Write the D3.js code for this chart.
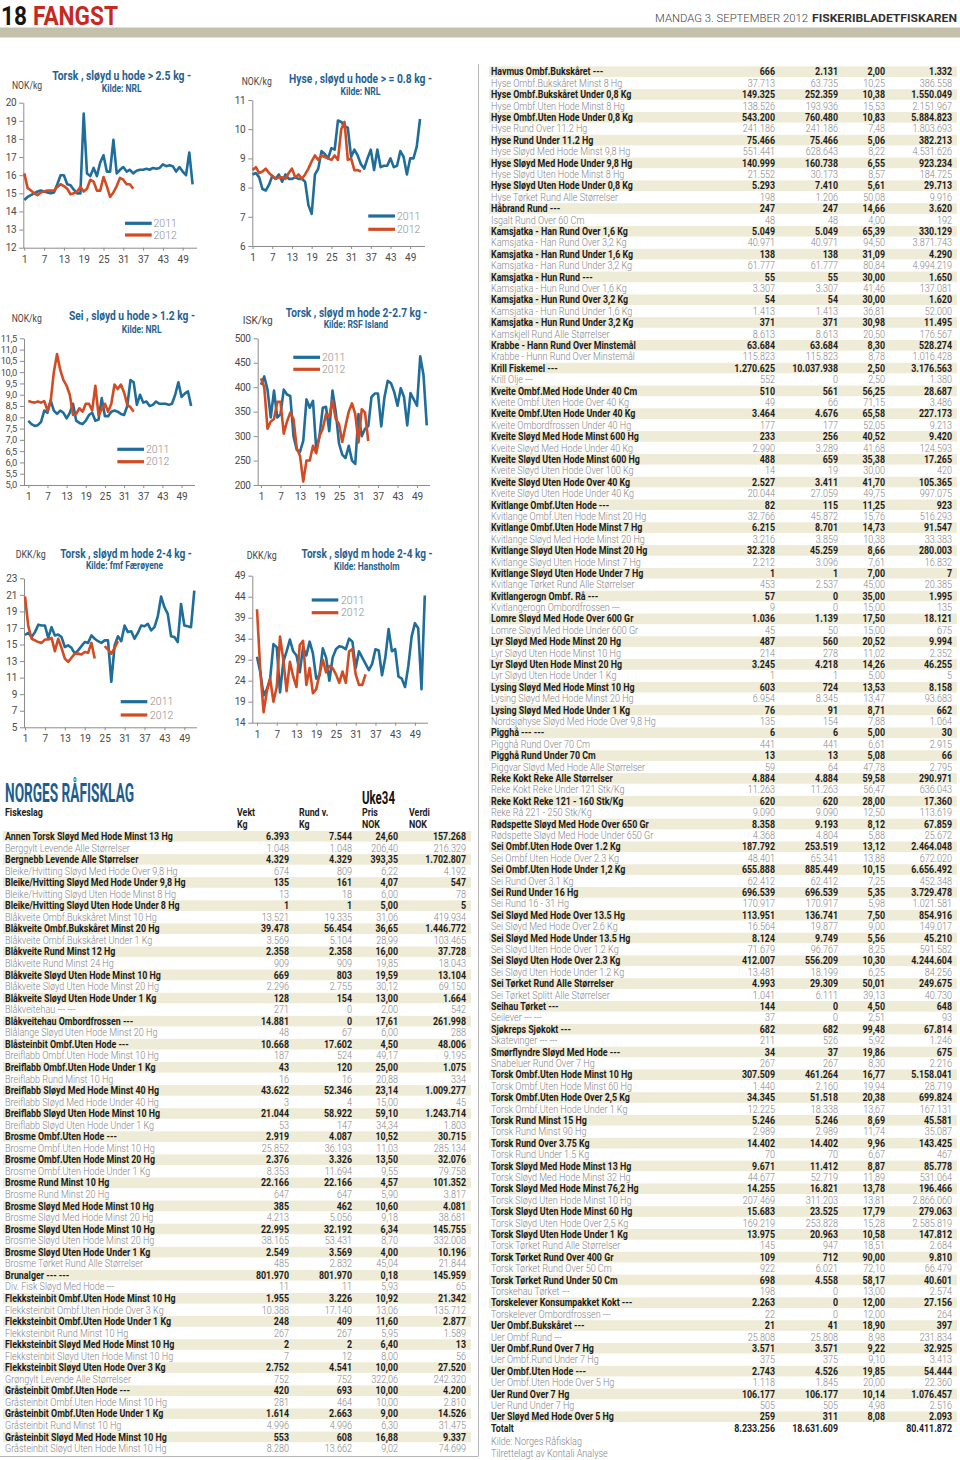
<!DOCTYPE html>
<html><head><meta charset="utf-8">
<script src="https://cdn.jsdelivr.net/npm/d3@7"></script>
<style>html,body{margin:0;padding:0;background:#fff}svg{display:block}</style>
</head><body>
<svg id="c" width="960" height="1460"></svg>
<script>
// ---------------- DATA ----------------
const weekTicks = [1,7,13,19,25,31,37,43,49];
const chartTitles = ["Torsk , sløyd u hode > 2.5 kg -","Hyse , sløyd u hode > = 0.8 kg -","Sei , sløyd u hode >  1.2 kg -","Torsk , sløyd m hode  2-2.7 kg -","Torsk , sløyd m hode 2-4 kg -","Torsk , sløyd m hode 2-4 kg -"];
const chartSources = ["Kilde: NRL","Kilde: NRL","Kilde: NRL","Kilde: RSF Island","Kilde: fmf Færøyene","Kilde: Hanstholm"];
const chartUnits = ["NOK/kg","NOK/kg","NOK/kg","ISK/kg","DKK/kg","DKK/kg"];
const seriesNames = ["2011","2012"];

const torskNrlTicks = [12,13,14,15,16,17,18,19,20];
const torskNrl2011 = [14.63,14.8,14.9,15.0,15.1,15.15,15.1,15.05,15.0,15.05,15.5,16.0,16.0,15.5,15.45,15.2,15.0,15.0,19.4,16.1,15.95,16.4,15.95,16.7,17.1,16.2,16.2,17.95,16.1,16.3,16.45,16.2,16.3,16.1,16.25,16.3,16.3,16.35,16.3,16.4,16.35,16.4,16.6,16.5,16.55,16.5,16.2,16.45,16.2,16.0,17.25,15.5];
const torskNrl2012 = [16.1,15.3,15.15,15.0,14.9,15.05,15.1,15.15,15.15,15.15,15.35,15.5,15.4,15.25,14.95,15.0,15.1,15.35,15.1,15.25,15.75,15.65,15.15,15.15,15.9,15.4,14.8,15.05,15.4,15.85,15.75,15.5,15.5,15.25];

const hyseTicks = [6,7,8,9,10,11];
const hyse2011 = [8.45,8.5,8.35,7.95,7.9,8.1,8.4,8.3,8.45,8.2,8.45,8.3,8.3,8.35,8.3,8.3,8.2,7.4,7.1,8.45,8.65,9.25,9.15,9.0,9.35,9.3,10.3,10.25,10.1,10.05,9.05,9.3,9.1,8.8,8.65,9.0,9.3,8.6,9.3,8.7,8.75,8.75,9.0,8.7,8.75,9.25,9.05,8.45,9.0,9.0,9.4,10.35];
const hyse2012 = [8.6,8.7,8.5,8.55,8.65,8.5,8.4,8.3,8.35,8.35,8.3,8.5,8.65,8.35,8.45,8.3,8.45,8.65,8.9,9.1,8.95,9.1,9.05,9.0,8.95,9.1,8.95,10.0,10.25,8.95,9.0,8.6,8.6,8.55];

const seiTicks = [5,5.5,6,6.5,7,7.5,8,8.5,9,9.5,10,10.5,11,11.5];
const sei2011 = [7.84,7.7,7.62,7.65,7.8,8.3,8.2,8.75,8.3,8.15,8.3,8.2,7.95,8.2,8.6,7.85,7.75,7.7,7.85,8.1,8.2,7.85,7.9,8.85,8.05,8.05,8.25,8.3,8.25,8.15,8.1,8.5,9.65,9.55,8.55,9.0,8.65,8.7,8.5,8.55,8.7,8.6,8.6,8.6,8.55,8.6,9.0,9.55,8.9,9.05,9.15,8.5];
const sei2012 = [8.72,8.68,8.65,8.7,8.65,8.72,8.3,8.7,10.0,10.8,10.1,9.65,9.4,9.0,8.1,8.15,8.4,8.25,8.6,8.6,8.3,9.4,8.1,8.35,8.6,8.25,8.6,9.45,9.25,9.45,9.1,8.55,8.45,8.25];

const islandTicks = [200,250,300,350,400,450,500];
const island2011 = [405,422,395,338,393,338,345,395,385,382,300,272,268,290,375,358,372,272,300,358,360,310,393,350,285,262,255,280,250,243,345,300,315,320,380,387,387,320,380,413,408,390,362,398,380,322,388,375,362,463,425,322];
const island2012 = [418,400,315,330,335,370,370,305,330,348,335,275,260,207,250,250,280,265,300,315,345,340,373,335,325,288,320,350,367,345,287,355,348,290];

const faroeTicks = [5,7,9,11,13,15,17,19,21,23];
const faroe2011 = [16.15,16.4,15.9,16.5,17.4,17.3,17.3,15.8,17.1,16.1,16.2,15.9,14.7,14.9,14.6,13.9,14.3,14.8,15.3,15.2,16.1,15.7,15.4,15.2,15.5,15.5,10.5,14.9,16.0,15.4,17.3,16.5,16.6,15.7,16.4,17.3,17.2,17.5,16.7,17.1,18.4,20.8,19.5,18.7,16.0,15.9,15.3,19.9,17.3,17.2,17.1,21.5];
const faroe2012 = [20.8,17.2,15.7,15.5,15.3,15.2,15.6,15.6,15.8,14.2,15.7,14.6,13.3,12.9,13.4,13.9,13.9,13.8,14.1,14.0,15.2,13.3,null,null,14.8,14.4,13.9,14.6,15.4];

const hanstTicks = [14,19,24,29,34,39,44,49];
const hanst2011 = [29.7,26,20.5,22.0,24.5,32.7,32.0,21.2,28.5,31.0,33.8,31.0,30.0,26.0,32.0,30.0,33.3,30.5,24.5,25.3,31.7,29.5,24.0,29.5,31.5,32.2,32.0,31.5,34.0,33.3,27.0,31.0,29.5,28.0,26.5,28.0,31.5,31.2,25.3,29.5,36.3,31.0,31.5,25.0,24.5,22.5,27.5,34.5,37.7,36.5,22.0,44.3];
const hanst2012 = [41.0,26.5,16.5,21.5,24.5,19.0,22.5,34.5,29.0,21.5,28.5,25.0,22.5,32.5,33.5,23.0,27.0,21.0,22.0,25.5,29.0,26.0,27.5,27.0,25.5,23.5,26.2,23.5,31.0,31.5,25.5,23.0,23.0,25.5];

// Norges Råfisklag table
const tableHead = ["Fiskeslag","Vekt","Kg","Rund v.","Kg","Pris","NOK","Verdi","NOK"];
const leftNames = ["Annen Torsk Sløyd Med Hode Minst 13 Hg","Berggylt Levende Alle Størrelser","Bergnebb Levende Alle Størrelser","Bleike/Hvitting Sløyd Med Hode Over 9,8 Hg","Bleike/Hvitting Sløyd Med Hode Under 9,8 Hg","Bleike/Hvitting Sløyd Uten Hode Minst 8 Hg","Bleike/Hvitting Sløyd Uten Hode Under 8 Hg","Blåkveite Ombf.Bukskåret Minst 10 Hg","Blåkveite Ombf.Bukskåret Minst 20 Hg","Blåkveite Ombf.Bukskåret Under 1 Kg","Blåkveite Rund Minst 12 Hg","Blåkveite Rund Minst 24 Hg","Blåkveite Sløyd Uten Hode Minst 10 Hg","Blåkveite Sløyd Uten Hode Minst 20 Hg","Blåkveite Sløyd Uten Hode Under 1 Kg","Blåkveitehau --- ---","Blåkveitehau Ombordfrossen ---","Blålange Sløyd Uten Hode Minst 20 Hg","Blåsteinbit Ombf.Uten Hode ---","Breiflabb Ombf.Uten Hode Minst 10 Hg","Breiflabb Ombf.Uten Hode Under 1 Kg","Breiflabb Rund Minst 10 Hg","Breiflabb Sløyd Med Hode Minst 40 Hg","Breiflabb Sløyd Med Hode Under 40 Hg","Breiflabb Sløyd Uten Hode Minst 10 Hg","Breiflabb Sløyd Uten Hode Under 1 Kg","Brosme Ombf.Uten Hode ---","Brosme Ombf.Uten Hode Minst 10 Hg","Brosme Ombf.Uten Hode Minst 20 Hg","Brosme Ombf.Uten Hode Under 1 Kg","Brosme Rund Minst 10 Hg","Brosme Rund Minst 20 Hg","Brosme Sløyd Med Hode Minst 10 Hg","Brosme Sløyd Med Hode Minst 20 Hg","Brosme Sløyd Uten Hode Minst 10 Hg","Brosme Sløyd Uten Hode Minst 20 Hg","Brosme Sløyd Uten Hode Under 1 Kg","Brosme Tørket Rund Alle Størrelser","Brunalger --- ---","Div. Fisk Sløyd Med Hode ---","Flekksteinbit Ombf.Uten Hode Minst 10 Hg","Flekksteinbit Ombf.Uten Hode Over 3 Kg","Flekksteinbit Ombf.Uten Hode Under 1 Kg","Flekksteinbit Rund Minst 10 Hg","Flekksteinbit Sløyd Med Hode Minst 10 Hg","Flekksteinbit Sløyd Uten Hode Minst 10 Hg","Flekksteinbit Sløyd Uten Hode Over 3 Kg","Grøngylt Levende Alle Størrelser","Gråsteinbit Ombf.Uten Hode ---","Gråsteinbit Ombf.Uten Hode Minst 10 Hg","Gråsteinbit Ombf.Uten Hode Under 1 Kg","Gråsteinbit Rund Minst 10 Hg","Gråsteinbit Sløyd Med Hode Minst 10 Hg","Gråsteinbit Sløyd Uten Hode Minst 10 Hg"];
const leftVekt = ["6.393","1.048","4.329","674","135","13","1","13.521","39.478","3.569","2.358","909","669","2.296","128","271","14.881","48","10.668","187","43","16","43.622","3","21.044","53","2.919","25.852","2.376","8.353","22.166","647","385","4.213","22.995","38.165","2.549","485","801.970","11","1.955","10.388","248","267","2","7","2.752","752","420","281","1.614","4.996","553","8.280"];
const leftRund = ["7.544","1.048","4.329","809","161","18","1","19.335","56.454","5.104","2.358","909","803","2.755","154","0","0","67","17.602","524","120","16","52.346","4","58.922","147","4.087","36.193","3.326","11.694","22.166","647","462","5.056","32.192","53.431","3.569","2.832","801.970","11","3.226","17.140","409","267","2","12","4.541","752","693","464","2.663","4.996","608","13.662"];
const leftPris = ["24,60","206,40","393,35","6,22","4,07","6,00","5,00","31,06","36,65","28,99","16,00","19,85","19,59","30,12","13,00","2,00","17,61","6,00","4,50","49,17","25,00","20,88","23,14","15,00","59,10","34,34","10,52","11,03","13,50","9,55","4,57","5,90","10,60","9,18","6,34","8,70","4,00","45,04","0,18","5,93","10,92","13,06","11,60","5,95","6,40","8,00","10,00","322,06","10,00","10,00","9,00","6,30","16,88","9,02"];
const leftVerdi = ["157.268","216.329","1.702.807","4.192","547","78","5","419.934","1.446.772","103.465","37.728","18.043","13.104","69.150","1.664","542","261.998","288","48.006","9.195","1.075","334","1.009.277","45","1.243.714","1.803","30.715","285.134","32.076","79.758","101.352","3.817","4.081","38.681","145.755","332.008","10.196","21.844","145.959","65","21.342","135.712","2.877","1.589","13","56","27.520","242.320","4.200","2.810","14.526","31.475","9.337","74.699"];

const rightNames = ["Havmus Ombf.Bukskåret ---","Hyse Ombf.Bukskåret Minst 8 Hg","Hyse Ombf.Bukskåret Under 0,8 Kg","Hyse Ombf.Uten Hode Minst 8 Hg","Hyse Ombf.Uten Hode Under 0,8 Kg","Hyse Rund Over 11.2 Hg","Hyse Rund Under 11.2 Hg","Hyse Sløyd Med Hode Minst 9,8 Hg","Hyse Sløyd Med Hode Under 9,8 Hg","Hyse Sløyd Uten Hode Minst 8 Hg","Hyse Sløyd Uten Hode Under 0,8 Kg","Hyse Tørket Rund Alle Størrelser","Håbrand Rund ---","Isgalt Rund Over 60 Cm","Kamsjatka - Han Rund Over 1,6 Kg","Kamsjatka - Han Rund Over 3,2 Kg","Kamsjatka - Han Rund Under 1,6 Kg","Kamsjatka - Han Rund Under 3,2 Kg","Kamsjatka - Hun Rund ---","Kamsjatka - Hun Rund Over 1,6 Kg","Kamsjatka - Hun Rund Over 3,2 Kg","Kamsjatka - Hun Rund Under 1,6 Kg","Kamsjatka - Hun Rund Under 3,2 Kg","Kamskjell Rund Alle Størrelser","Krabbe - Hann Rund Over Minstemål","Krabbe - Hunn Rund Over Minstemål","Krill Fiskemel ---","Krill Olje ---","Kveite Ombf.Med Hode Under 40 Cm","Kveite Ombf.Uten Hode Over 40 Kg","Kveite Ombf.Uten Hode Under 40 Kg","Kveite Ombordfrossen Under 40 Hg","Kveite Sløyd Med Hode Minst 600 Hg","Kveite Sløyd Med Hode Under 40 Kg","Kveite Sløyd Uten Hode Minst 600 Hg","Kveite Sløyd Uten Hode Over 100 Kg","Kveite Sløyd Uten Hode Over 40 Kg","Kveite Sløyd Uten Hode Under 40 Kg","Kvitlange Ombf.Uten Hode ---","Kvitlange Ombf.Uten Hode Minst 20 Hg","Kvitlange Ombf.Uten Hode Minst 7 Hg","Kvitlange Sløyd Med Hode Minst 20 Hg","Kvitlange Sløyd Uten Hode Minst 20 Hg","Kvitlange Sløyd Uten Hode Minst 7 Hg","Kvitlange Sløyd Uten Hode Under 7 Hg","Kvitlange Tørket Rund Alle Størrelser","Kvitlangerogn Ombf. Rå ---","Kvitlangerogn Ombordfrossen ---","Lomre Sløyd Med Hode Over 600 Gr","Lomre Sløyd Med Hode Under 600 Gr","Lyr Sløyd Med Hode Minst 20 Hg","Lyr Sløyd Uten Hode Minst 10 Hg","Lyr Sløyd Uten Hode Minst 20 Hg","Lyr Sløyd Uten Hode Under 1 Kg","Lysing Sløyd Med Hode Minst 10 Hg","Lysing Sløyd Med Hode Minst 20 Hg","Lysing Sløyd Med Hode Under 1 Kg","Nordsjøhyse Sløyd Med Hode Over 9,8 Hg","Pigghå --- ---","Pigghå Rund Over 70 Cm","Pigghå Rund Under 70 Cm","Piggvar Sløyd Med Hode Alle Størrelser","Reke Kokt Reke Alle Størrelser","Reke Kokt Reke Under 121 Stk/Kg","Reke Kokt Reke 121 - 160 Stk/Kg","Reke Rå 221 - 250 Stk/Kg","Rødspette Sløyd Med Hode Over 650 Gr","Rødspette Sløyd Med Hode Under 650 Gr","Sei Ombf.Uten Hode Over 1.2 Kg","Sei Ombf.Uten Hode Over 2.3 Kg","Sei Ombf.Uten Hode Under 1,2 Kg","Sei Rund Over 3.1 Kg","Sei Rund Under 16 Hg","Sei Rund 16 - 31 Hg","Sei Sløyd Med Hode Over 13.5 Hg","Sei Sløyd Med Hode Over 2.6 Kg","Sei Sløyd Med Hode Under 13.5 Hg","Sei Sløyd Uten Hode Over 1.2 Kg","Sei Sløyd Uten Hode Over 2.3 Kg","Sei Sløyd Uten Hode Under 1.2 Kg","Sei Tørket Rund Alle Størrelser","Sei Tørket Splitt Alle Størrelser","Seihau Tørket ---","Seilever --- ---","Sjøkreps Sjøkokt ---","Skatevinger --- ---","Smørflyndre Sløyd Med Hode ---","Snabeluer Rund Over 7 Hg","Torsk Ombf.Uten Hode Minst 10 Hg","Torsk Ombf.Uten Hode Minst 60 Hg","Torsk Ombf.Uten Hode Over 2,5 Kg","Torsk Ombf.Uten Hode Under 1 Kg","Torsk Rund Minst 15 Hg","Torsk Rund Minst 90 Hg","Torsk Rund Over 3.75 Kg","Torsk Rund Under 1.5 Kg","Torsk Sløyd Med Hode Minst 13 Hg","Torsk Sløyd Med Hode Minst 32 Hg","Torsk Sløyd Med Hode Minst 76,2 Hg","Torsk Sløyd Uten Hode Minst 10 Hg","Torsk Sløyd Uten Hode Minst 60 Hg","Torsk Sløyd Uten Hode Over 2,5 Kg","Torsk Sløyd Uten Hode Under 1 Kg","Torsk Tørket Rund Alle Størrelser","Torsk Tørket Rund Over 400 Gr","Torsk Tørket Rund Over 50 Cm","Torsk Tørket Rund Under 50 Cm","Torskehau Tørket ---","Torskelever Konsumpakket Kokt ---","Torskelever Ombordfrossen ---","Uer Ombf.Bukskåret ---","Uer Ombf.Rund ---","Uer Ombf.Rund Over 7 Hg","Uer Ombf.Rund Under 7 Hg","Uer Ombf.Uten Hode ---","Uer Ombf.Uten Hode Over 5 Hg","Uer Rund Over 7 Hg","Uer Rund Under 7 Hg","Uer Sløyd Med Hode Over 5 Hg"];
const rightVekt = ["666","37.713","149.325","138.526","543.200","241.186","75.466","551.441","140.999","21.552","5.293","198","247","48","5.049","40.971","138","61.777","55","3.307","54","1.413","371","8.613","63.684","115.823","1.270.625","552","510","49","3.464","177","233","2.990","488","14","2.527","20.044","82","32.766","6.215","3.216","32.328","2.212","1","453","57","9","1.036","45","487","214","3.245","1","603","6.954","76","135","6","441","13","59","4.884","11.263","620","9.090","8.358","4.368","187.792","48.401","655.888","62.412","696.539","170.917","113.951","16.564","8.124","71.679","412.007","13.481","4.993","1.041","144","37","682","211","34","267","307.509","1.440","34.345","12.225","5.246","2.989","14.402","70","9.671","44.677","14.255","207.469","15.683","169.219","13.975","145","109","922","698","198","2.263","22","21","25.808","3.571","375","2.743","1.118","106.177","505","259"];
const rightRund = ["2.131","63.735","252.359","193.936","760.480","241.186","75.466","628.643","160.738","30.173","7.410","1.206","247","48","5.049","40.971","138","61.777","55","3.307","54","1.413","371","8.613","63.684","115.823","10.037.938","0","561","66","4.676","177","256","3.289","659","19","3.411","27.059","115","45.872","8.701","3.859","45.259","3.096","1","2.537","0","0","1.139","50","560","278","4.218","1","724","8.345","91","154","6","441","13","64","4.884","11.263","620","9.090","9.193","4.804","253.519","65.341","885.449","62.412","696.539","170.917","136.741","19.877","9.749","96.767","556.209","18.199","29.309","6.111","0","0","682","526","37","267","461.264","2.160","51.518","18.338","5.246","2.989","14.402","70","11.412","52.719","16.821","311.203","23.525","253.828","20.963","947","712","6.021","4.558","0","0","0","41","25.808","3.571","375","4.526","1.845","106.177","505","311"];
const rightPris = ["2,00","10,25","10,38","15,53","10,83","7,48","5,06","8,22","6,55","8,57","5,61","50,08","14,66","4,00","65,39","94,50","31,09","80,84","30,00","41,46","30,00","36,81","30,98","20,50","8,30","8,78","2,50","2,50","56,25","71,15","65,58","52,05","40,52","41,68","35,38","30,00","41,70","49,75","11,25","15,76","14,73","10,38","8,66","7,61","7,00","45,00","35,00","15,00","17,50","15,00","20,52","11,02","14,26","5,00","13,53","13,47","8,71","7,88","5,00","6,61","5,08","47,78","59,58","56,47","28,00","12,50","8,12","5,88","13,12","13,88","10,15","7,25","5,35","5,98","7,50","9,00","5,56","8,25","10,30","6,25","50,01","39,13","4,50","2,51","99,48","5,92","19,86","8,30","16,77","19,94","20,38","13,67","8,69","11,74","9,96","6,67","8,87","11,89","13,78","13,81","17,79","15,28","10,58","18,51","90,00","72,10","58,17","13,00","12,00","12,00","18,90","8,98","9,22","9,10","19,85","20,00","10,14","4,98","8,08"];
const rightVerdi = ["1.332","386.558","1.550.049","2.151.967","5.884.823","1.803.693","382.213","4.531.626","923.234","184.725","29.713","9.916","3.620","192","330.129","3.871.743","4.290","4.994.219","1.650","137.081","1.620","52.000","11.495","176.567","528.274","1.016.428","3.176.563","1.380","28.687","3.486","227.173","9.213","9.420","124.593","17.265","420","105.365","997.075","923","516.293","91.547","33.383","280.003","16.832","7","20.385","1.995","135","18.121","675","9.994","2.352","46.255","5","8.158","93.683","662","1.064","30","2.915","66","2.795","290.971","636.043","17.360","113.619","67.859","25.672","2.464.048","672.020","6.656.492","452.348","3.729.478","1.021.581","854.916","149.017","45.210","591.582","4.244.604","84.256","249.675","40.730","648","93","67.814","1.246","675","2.216","5.158.041","28.719","699.824","167.131","45.581","35.087","143.425","467","85.778","531.064","196.466","2.866.060","279.063","2.585.819","147.812","2.684","9.810","66.479","40.601","2.574","27.156","264","397","231.834","32.925","3.413","54.444","22.360","1.076.457","2.516","2.093"];
const totalRow = ["Totalt","8.233.256","18.631.609","","80.411.872"];
const footNotes = ["Kilde: Norges Råfisklag","Tilrettelagt av Kontali Analyse"];

// ---------------- DRAW ----------------
function draw(){
const svg = d3.select("#c");
const F = "Roboto, 'Noto Sans', sans-serif";
const BLUE = "#1f6d9a", RED = "#d24b23", TITLEC = "#1f6291";

function measure(str, weight, size){
  const t = svg.append("text").attr("font-family",F).attr("font-weight",weight).attr("font-size",size).text(str);
  const w = t.node().getComputedTextLength(); t.remove(); return w;
}
const FS = 10.5;
const kB = 168 / measure("Annen Torsk Sløyd Med Hode Minst 13 Hg", 700, FS);
const kL = 125 / measure("Berggylt Levende Alle Størrelser", 300, FS);

// page header
svg.append("text").attr("x",1).attr("y",24.5).attr("font-family",F).attr("font-weight",700)
  .attr("font-size",26).attr("fill","#151515").attr("textLength",26).attr("lengthAdjust","spacingAndGlyphs").text("18");
svg.append("text").attr("x",33).attr("y",24.5).attr("font-family",F).attr("font-weight",700)
  .attr("font-size",26).attr("fill","#c8281f").attr("textLength",85).attr("lengthAdjust","spacingAndGlyphs").text("FANGST");
svg.append("text").attr("x",655).attr("y",22).attr("font-family",F).attr("font-weight",300).attr("font-size",11.5)
  .attr("fill","#444").attr("textLength",153).attr("lengthAdjust","spacingAndGlyphs").text("MANDAG 3. SEPTEMBER 2012");
svg.append("text").attr("x",812).attr("y",22).attr("font-family",F).attr("font-weight",700).attr("font-size",11.5)
  .attr("fill","#333").attr("textLength",145).attr("lengthAdjust","spacingAndGlyphs").text("FISKERIBLADETFISKAREN");
svg.append("rect").attr("x",0).attr("y",27.5).attr("width",960).attr("height",10).attr("fill","#c3c1ab");

// panel frame
svg.append("line").attr("x1",478.5).attr("x2",478.5).attr("y1",64).attr("y2",1456).attr("stroke","#b5b5b5").attr("stroke-width",1);
svg.append("line").attr("x1",0).attr("x2",478.5).attr("y1",1456.5).attr("y2",1456.5).attr("stroke","#b5b5b5").attr("stroke-width",1);

// ------------- charts -------------
const layouts = [
 {ax:23.3, x1:24.3, dx:3.30, yTop:102.7, yBot:247.7, xEnd:197, title:[121.7,76,139], kilde:[121.7,88.5], unit:[12,85], leg:[125,151.7,223.3,235,153.5], fs:10},
 {ax:252.3, x1:252.6, dx:3.283, yTop:100, yBot:246, xEnd:425, title:[360.5,79,143], kilde:[360.5,91.7], unit:[241.7,81.7], leg:[368.3,395,216,229.3,397], fs:10},
 {ax:24, x1:28.3, dx:3.193, yTop:338.3, yBot:485, xEnd:195, title:[132,315.7,126], kilde:[141.7,329], unit:[11.7,318.3], leg:[117.3,144,449.3,461.7,146], fs:9.3},
 {ax:257.7, x1:261, dx:3.25, yTop:338.3, yBot:485, xEnd:430, title:[356.5,312.3,141.6], kilde:[355.8,324.3], unit:[242.7,320], leg:[293.3,320,357.3,369.3,322], fs:10},
 {ax:24, x1:25, dx:3.32, yTop:578.3, yBot:727.3, xEnd:197, title:[126,553.3,131.7], kilde:[124.5,565], unit:[15.7,554.3], leg:[120.7,147.3,701.7,715,150], fs:10},
 {ax:252.3, x1:257, dx:3.29, yTop:575.7, yBot:722.7, xEnd:428, title:[367,553.3,131], kilde:[366.8,566], unit:[246.7,555], leg:[311.7,338.3,600,612.7,341], fs:10}
];
const chartData = [
 [torskNrl2011, torskNrl2012, torskNrlTicks, d=>d],
 [hyse2011, hyse2012, hyseTicks, d=>d],
 [sei2011, sei2012, seiTicks, d=>d.toFixed(1).replace(".",",")],
 [island2011, island2012, islandTicks, d=>d],
 [faroe2011, faroe2012, faroeTicks, d=>d],
 [hanst2011, hanst2012, hanstTicks, d=>d]
];

chartData.forEach(([s1,s2,ticks,fmt],ci)=>{
  const L = layouts[ci];
  const g = svg.append("g");
  const x = d3.scaleLinear().domain([1,52]).range([L.x1, L.x1 + 51*L.dx]);
  const y = d3.scaleLinear().domain([ticks[0], ticks[ticks.length-1]]).range([L.yBot, L.yTop]);

  const ya = g.append("g").attr("transform",`translate(${L.ax},0)`)
    .call(d3.axisLeft(y).tickValues(ticks).tickFormat(fmt).tickSize(4).tickSizeOuter(0).tickPadding(3));
  const xa = g.append("g").attr("transform",`translate(0,${L.yBot})`)
    .call(d3.axisBottom(x).tickValues(weekTicks).tickSize(3).tickSizeOuter(0).tickPadding(5));
  xa.select(".domain").remove();
  g.append("line").attr("x1",L.ax).attr("x2",L.xEnd).attr("y1",L.yBot+0.5).attr("y2",L.yBot+0.5).attr("stroke","#8c8c8c");
  [ya,xa].forEach(a=>{
    a.selectAll("path,line").attr("stroke","#8c8c8c");
    a.selectAll("text").attr("font-family",F).attr("font-size",10).attr("fill","#4a4a4a").attr("font-weight",400);
  });
  ya.selectAll("text").attr("font-size",L.fs).attr("letter-spacing",-0.3);

  const line = d3.line().defined(d=>d!=null).x((d,i)=>x(i+1)).y(d=>y(d)).curve(d3.curveLinear);
  g.append("path").datum(s1).attr("d",line).attr("fill","none").attr("stroke",BLUE).attr("stroke-width",2.6).attr("stroke-linejoin","round");
  g.append("path").datum(s2).attr("d",line).attr("fill","none").attr("stroke",RED).attr("stroke-width",2.6).attr("stroke-linejoin","round");

  // titles
  g.append("text").attr("x",L.title[0]).attr("y",L.title[1]).attr("dy","0.35em").attr("text-anchor","middle")
    .attr("font-family",F).attr("font-weight",700).attr("font-size",12).attr("fill",TITLEC)
    .attr("textLength",L.title[2]).attr("lengthAdjust","spacingAndGlyphs").text(chartTitles[ci]);
  g.append("text").attr("transform",`translate(${L.kilde[0]},${L.kilde[1]}) scale(0.85,1)`).attr("dy","0.35em").attr("text-anchor","middle")
    .attr("font-family",F).attr("font-weight",700).attr("font-size",10).attr("fill",TITLEC).text(chartSources[ci]);
  g.append("text").attr("x",L.unit[0]).attr("y",L.unit[1]).attr("dy","0.35em")
    .attr("font-family",F).attr("font-weight",400).attr("font-size",10).attr("fill","#444")
    .attr("textLength",30).attr("lengthAdjust","spacingAndGlyphs").text(chartUnits[ci]);

  // legend
  [[BLUE,L.leg[2]],[RED,L.leg[3]]].forEach(([c,ly],k)=>{
    g.append("line").attr("x1",L.leg[0]).attr("x2",L.leg[1]).attr("y1",ly).attr("y2",ly).attr("stroke",c).attr("stroke-width",3.2);
    g.append("text").attr("x",L.leg[4]).attr("y",ly).attr("dy","0.35em").attr("font-family",F).attr("font-weight",300)
      .attr("font-size",10.5).attr("fill","#8e8e8e").text(seriesNames[k]);
  });
});

// ------------- tables -------------
function txt(g, s, x, y, anchor, bold, color){
  g.append("text").attr("transform",`translate(${x},${y}) scale(${bold?kB:kL},1)`).attr("text-anchor",anchor)
    .attr("dy","0.35em").attr("font-family",F).attr("font-size",FS).attr("font-weight",bold?700:300)
    .attr("fill",color || (bold?"#1c1c1c":"#858585")).text(s);
}
function table(names, cols, opt){
  const g = svg.append("g");
  names.forEach((n,i)=>{
    const y = opt.y0 + i*opt.pitch;
    const bold = i%2===0;
    if(bold) g.append("rect").attr("x",opt.sx).attr("y",y-5.3).attr("width",opt.sw).attr("height",10.6).attr("fill","#eeebd6");
    txt(g, n, opt.nameX, y, "start", bold);
    cols.forEach((arr,j)=> txt(g, arr[i], opt.colX[j], y, "end", bold));
  });
  return g;
}
// left table headers
svg.append("text").attr("x",5).attr("y",802).attr("font-family",F).attr("font-weight",700).attr("font-size",26)
  .attr("fill","#1d5e8e").attr("textLength",129).attr("lengthAdjust","spacingAndGlyphs").text("NORGES RÅFISKLAG");
svg.append("text").attr("x",362).attr("y",803.5).attr("font-family",F).attr("font-weight",700).attr("font-size",19)
  .attr("fill","#141414").attr("textLength",33).attr("lengthAdjust","spacingAndGlyphs").text("Uke34");
const hg = svg.append("g");
txt(hg, tableHead[0], 5, 812, "start", true);
txt(hg, tableHead[1], 237, 812, "start", true); txt(hg, tableHead[2], 237, 824, "start", true);
txt(hg, tableHead[3], 299, 812, "start", true); txt(hg, tableHead[4], 299, 824, "start", true);
txt(hg, tableHead[5], 362, 812, "start", true); txt(hg, tableHead[6], 362, 824, "start", true);
txt(hg, tableHead[7], 409, 812, "start", true); txt(hg, tableHead[8], 409, 824, "start", true);

table(leftNames, [leftVekt,leftRund,leftPris,leftVerdi], {y0:836.3, pitch:11.55, sx:3, sw:468, nameX:5, colX:[289,352,398,466]});
const rPitch = (1416.7-71.7)/(rightNames.length-1);
const rg = table(rightNames, [rightVekt,rightRund,rightPris,rightVerdi], {y0:71.7, pitch:rPitch, sx:489, sw:468, nameX:491, colX:[775,838,885,952]});
const ty = 71.7 + rightNames.length*rPitch;
txt(rg, totalRow[0], 491, ty, "start", true);
[775,838,885,952].forEach((cx,j)=> txt(rg, totalRow[j+1], cx, ty, "end", true));
txt(rg, footNotes[0], 491, ty + 13.2, "start", false);
txt(rg, footNotes[1], 491, ty + 25.4, "start", false);
}
if (document.fonts && document.fonts.ready) document.fonts.ready.then(draw); else draw();
</script>
</body></html>
